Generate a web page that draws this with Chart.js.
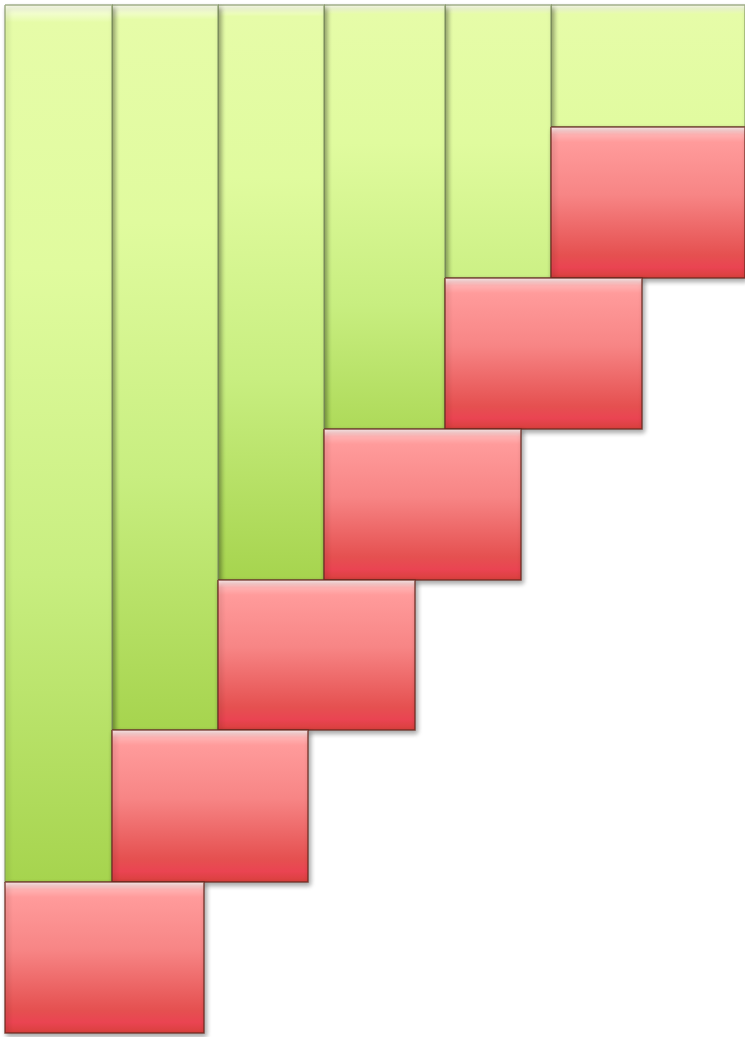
<!DOCTYPE html>
<html>
<head>
<meta charset="utf-8">
<script src="https://cdn.jsdelivr.net/npm/chart.js@4/dist/chart.umd.min.js"></script>
<style>
  html, body { margin: 0; padding: 0; background: #fff; }
  #wrap { width: 745px; height: 1037px; }
</style>
</head>
<body>
<div id="wrap"><canvas id="steps" width="745" height="1037"></canvas></div>
<script>
// step levels (value axis, bottom = 0), shared by green columns and red blocks
const stepLevels = [4, 155, 307, 457, 608, 759, 910, 1032];
// green columns: left/right edges
const columnEdges = [5, 112, 218, 324, 445, 551, 745];
// red blocks: left/right edges, one block per step
const blockLeft = [5, 112, 218, 324, 445, 551];
const blockRight = [204, 308, 415, 521, 642, 745];

const GREEN_STOPS = [[0, '#fdfff0'], [0.02, '#e6fca8'], [0.3, '#e0fb9e'], [0.65, '#c8ee80'], [1, '#a6d44e']];
const RED_STOPS = [[0, '#fff0f0'], [0.05, '#ffb2b2'], [0.1, '#ff9b9b'], [0.45, '#f78585'], [0.85, '#e55050'], [0.93, '#ea4452'], [1, '#d8403c']];

function rect(x0, x1, top, bottom) {
    return [{x: x0, y: top}, {x: x1, y: top}, {x: x1, y: bottom}, {x: x0, y: bottom}, {x: x0, y: top}];
}

function gradient(stops, minSpan) {
    return function (c) {
        const chart = c.chart;
        if (!chart.chartArea || !chart.scales.y) return stops[2][1];
        const pts = c.dataset.data;
        const top = chart.scales.y.getPixelForValue(pts[0].y);
        let bottom = chart.scales.y.getPixelForValue(pts[2].y);
        bottom = Math.max(bottom, top + (minSpan || 0));
        const g = chart.ctx.createLinearGradient(0, top, 0, bottom);
        stops.forEach(s => g.addColorStop(s[0], s[1]));
        return g;
    };
}

const datasets = [];
// red blocks first: lowest block drawn last (on top of the shadows above it)
blockLeft.forEach((x0, i) => {
    datasets.push({
        data: rect(x0, blockRight[i], stepLevels[i + 1], stepLevels[i]),
        order: 0,
        showLine: true, fill: 'shape', pointRadius: 0, tension: 0,
        borderColor: 'rgba(105,40,30,0.8)', borderWidth: 1.5, borderJoinStyle: 'miter',
        backgroundColor: gradient(RED_STOPS),
    });
});
for (let i = 0; i < columnEdges.length - 1; i++) {
    datasets.push({
        data: rect(columnEdges[i], columnEdges[i + 1], stepLevels[7], stepLevels[i + 1]),
        order: 1,
        showLine: true, fill: 'shape', pointRadius: 0, tension: 0,
        borderColor: 'rgba(125,145,95,0.7)', borderWidth: 1.5, borderJoinStyle: 'miter',
        backgroundColor: gradient(GREEN_STOPS, 460),
    });
}

const softShadow = {
    id: 'softShadow',
    beforeDatasetsDraw(chart) {
        const ctx = chart.ctx;
        ctx.save();
        ctx.shadowColor = 'rgba(0,0,0,0.35)';
        ctx.shadowBlur = 5;
        ctx.shadowOffsetX = 2;
        ctx.shadowOffsetY = 3;
    },
    afterDatasetsDraw(chart) { chart.ctx.restore(); }
};

new Chart(document.getElementById('steps'), {
    type: 'scatter',
    data: { datasets: datasets },
    options: {
        responsive: false, maintainAspectRatio: false, animation: false,
        layout: { padding: 0 },
        plugins: {
            legend: { display: false }, tooltip: { enabled: false },
            filler: { drawTime: 'beforeDatasetDraw' },
        },
        scales: {
            x: { type: 'linear', min: 0, max: 745, display: false },
            y: { type: 'linear', min: 0, max: 1037, display: false },
        },
    },
    plugins: [softShadow],
});
</script>
</body>
</html>
